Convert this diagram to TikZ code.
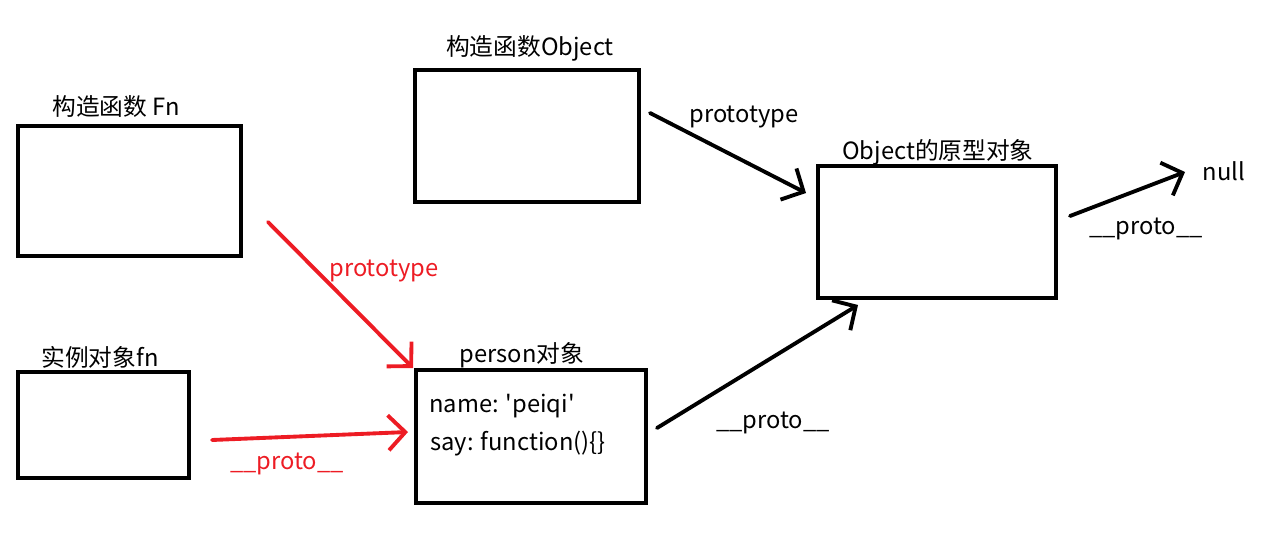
\documentclass[tikz,border=0pt]{standalone}
\usepackage{fontspec}
\setmainfont{Noto Sans CJK SC}
\usetikzlibrary{arrows.meta, positioning}
\definecolor{penred}{RGB}{237,28,36}

\begin{document}
\begin{tikzpicture}[
    x=1cm, y=1cm,
    every node/.style={font=\fontsize{13.5pt}{16pt}\selectfont, inner sep=0pt},
    box/.style={rectangle, draw, line width=2.2pt},
    lbl/.style={anchor=base},
    arrow/.style={line width=2.2pt, line cap=round,
                  -{Straight Barb[length=3.4mm, width=7mm, line width=2.2pt]}},
    redarrow/.style={arrow, draw=penred}
]
    \useasboundingbox (0,0) rectangle (25.42,-11.08);
    % boxes
    \node[box, minimum width=4.46cm, minimum height=2.6cm] (fnctor) at (2.59,-3.82) {};
    \node[box, minimum width=4.48cm, minimum height=2.64cm] (objctor) at (10.54,-2.72) {};
    \node[box, minimum width=4.76cm, minimum height=2.64cm] (objproto) at (18.74,-4.64) {};
    \node[box, minimum width=3.42cm, minimum height=2.12cm] (fninst) at (2.07,-8.50) {};
    \node[box, minimum width=4.60cm, minimum height=2.66cm] (person) at (10.62,-8.73) {};
    % titles
    \node[lbl] (fnctortitle) at (2.32,-2.30) {构造函数 Fn};
    \node[lbl] (objctortitle) at (10.60,-1.10) {构造函数Object};
    \node[lbl] (objprototitle) at (18.76,-3.18) {Object的原型对象};
    \node[lbl] (fninsttitle) at (2.00,-7.32) {实例对象fn};
    \node[lbl] (persontitle) at (10.44,-7.24) {person对象};
    \node[lbl] (null) at (24.48,-3.60) {null};
    % person fields
    \node[anchor=base west] (pname) at (8.58,-8.24) {name: \textquotesingle peiqi\textquotesingle};
    \node[anchor=base west] (psay) at (8.60,-9.00) {say: function()\{\}};
    % arrow ends
    \coordinate (a1s) at (5.36,-4.44);  \coordinate (a1e) at (8.26,-7.36);
    \coordinate (a2s) at (4.24,-8.80);  \coordinate (a2e) at (8.16,-8.64);
    \coordinate (a3s) at (13.00,-2.26); \coordinate (a3e) at (16.12,-3.86);
    \coordinate (a4s) at (13.14,-8.56); \coordinate (a4e) at (17.16,-6.10);
    \coordinate (a5s) at (21.40,-4.32); \coordinate (a5e) at (23.70,-3.44);
    % connectors
    \draw[redarrow] (a1s) -- (a1e);
    \draw[redarrow] (a2s) -- (a2e);
    \draw[arrow] (a3s) -- (a3e);
    \draw[arrow] (a4s) -- (a4e);
    \draw[arrow] (a5s) -- (a5e);
    % arrow labels
    \node[lbl, text=penred] (redproto) at (7.68,-5.52) {prototype};
    \node[lbl, text=penred] (redunder) at (5.74,-9.38) {\_\_proto\_\_};
    \node[lbl] (protoobj) at (14.88,-2.44) {prototype};
    \node[lbl] (underperson) at (15.46,-8.56) {\_\_proto\_\_};
    \node[lbl] (underobj) at (22.92,-4.68) {\_\_proto\_\_};
\end{tikzpicture}
\end{document}
